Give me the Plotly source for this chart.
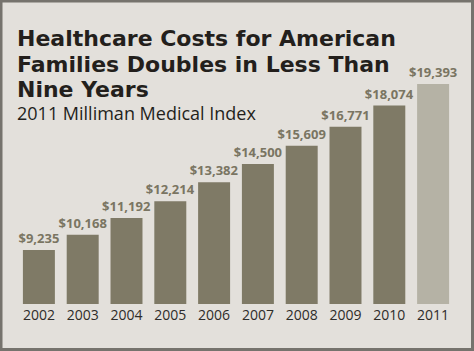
import plotly.graph_objects as go

years = ["2002", "2003", "2004", "2005", "2006", "2007", "2008", "2009", "2010", "2011"]
costs = [9235, 10168, 11192, 12214, 13382, 14500, 15609, 16771, 18074, 19393]
labels = ["$9,235", "$10,168", "$11,192", "$12,214", "$13,382", "$14,500",
          "$15,609", "$16,771", "$18,074", "$19,393"]

W, H = 474, 351
L, R, T, B = 17, 19, 70, 47
BG = "#e3e0db"
BAR = "#7f7a66"
BAR_LAST = "#b5b2a5"
BORDER = "#76736d"

bar_colors = [BAR] * (len(years) - 1) + [BAR_LAST]

fig = go.Figure(go.Bar(
    x=years, y=costs, text=labels, textposition="outside",
    constraintext="none",
    marker=dict(color=bar_colors, line=dict(width=0)),
    textfont=dict(family="Open Sans", size=13, color="#7a7562", weight="bold"),
    cliponaxis=False, hoverinfo="skip",
))

# pixel -> paper conversions
pw = W - L - R
ph = H - T - B
def px(x):
    return (x - L) / pw
def py(y):
    return 1 - (y - T) / ph

fig.update_layout(
    width=W, height=H,
    margin=dict(l=L, r=R, t=T, b=B),
    paper_bgcolor=BG, plot_bgcolor=BG,
    bargap=0.27,
    showlegend=False,
    xaxis=dict(showgrid=False, zeroline=False, showline=False, ticks="",
               ticklabelstandoff=1,
               tickfont=dict(family="Open Sans", size=14, color="#2e2c29")),
    yaxis=dict(range=[5930, 5930 + ph / 0.01634], visible=False, showgrid=False),
)

title_lines = ["Healthcare Costs for American", "Families Doubles in Less Than", "Nine Years"]
for i, line in enumerate(title_lines):
    fig.add_annotation(
        text=line, xref="paper", yref="paper", x=px(15), y=py(24 + 25.6 * i),
        xanchor="left", yanchor="top", showarrow=False, height=25, valign="middle",
        font=dict(family="DejaVu Sans", size=22, color="#231f1c", weight="bold"),
    )
fig.add_annotation(
    text="2011 Milliman Medical Index", xref="paper", yref="paper",
    x=px(15), y=py(101), xanchor="left", yanchor="top", showarrow=False,
    height=20, valign="middle",
    font=dict(family="Open Sans", size=18, color="#231f1c"),
)

# border frame
fig.add_shape(type="rect", xref="paper", yref="paper",
              x0=px(1), x1=px(W - 1.5), y0=py(H - 1.5), y1=py(1),
              line=dict(color=BORDER, width=3), fillcolor="rgba(0,0,0,0)", layer="above")

fig.write_html("out.html")
